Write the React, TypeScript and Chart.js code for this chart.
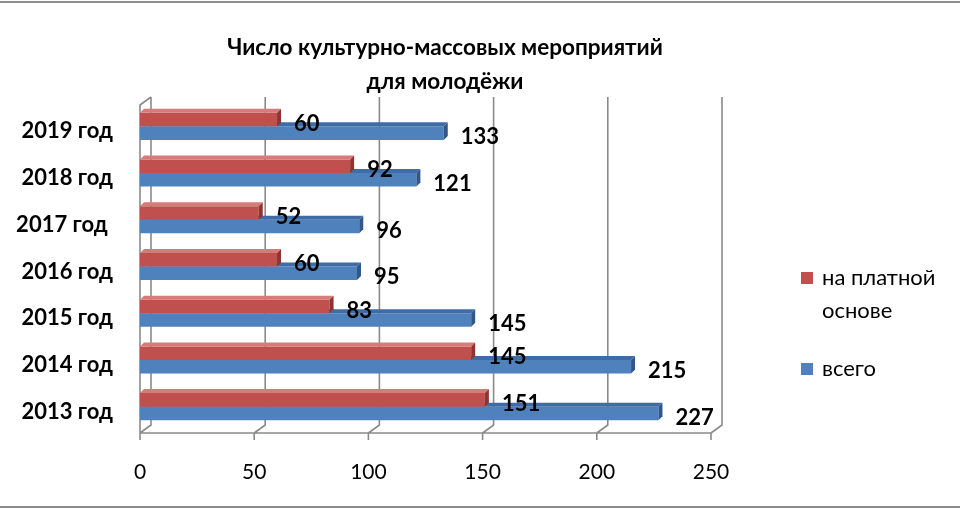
import React, { useEffect, useRef } from 'react';
import { Chart, registerables } from 'chart.js';

Chart.register(...registerables);

const titleLines = ['Число культурно-массовых мероприятий', 'для молодёжи'];
const categories = ['2019 год', '2018 год', '2017 год ', '2016 год', '2015 год', '2014 год', '2013 год'];
const paidValues = [60, 92, 52, 60, 83, 145, 151];
const totalValues = [133, 121, 96, 95, 145, 215, 227];
const xTicks = [0, 50, 100, 150, 200, 250];
const seriesNames = ['на платной основе', 'всего'];
const legendLines = [['на платной', 'основе'], ['всего']];

const FONT = 'Lato, "Noto Sans", sans-serif';
const RED = '#C0504D';
const BLUE = '#4F81BD';
// 3d faces: [top, side]
const faces: Record<number, [string, string]> = {
    0: ['#D57B78', '#8E3532'],
    1: ['#3F6CA6', '#30578A'],
};
const GRID = '#8A8A8A';
const DEPTH_X = 11;
const DEPTH_Y = 8;
const BAR_D = 4;

const frame3d = {
    id: 'frame3d',
    beforeDraw(chart: Chart) {
        const { ctx, width } = chart;
        ctx.save();
        ctx.fillStyle = '#fff';
        ctx.fillRect(0, 0, width, chart.height);
        ctx.strokeStyle = '#8C8C8C';
        ctx.lineWidth = 2;
        ctx.beginPath();
        ctx.moveTo(0, 2);
        ctx.lineTo(width, 2);
        ctx.moveTo(0, 507);
        ctx.lineTo(width, 507);
        ctx.stroke();
        ctx.restore();
    },
    beforeDatasetsDraw(chart: Chart) {
        const { ctx, chartArea } = chart;
        const x = chart.scales.x;
        const frontY = chartArea.bottom + 3;
        const backY = frontY - DEPTH_Y;
        const topY = chartArea.top - 6;
        ctx.save();
        ctx.strokeStyle = GRID;
        ctx.lineWidth = 1.6;
        ctx.beginPath();
        xTicks.forEach((v) => {
            const px = x.getPixelForValue(v);
            // back wall line
            ctx.moveTo(px + DEPTH_X, topY);
            ctx.lineTo(px + DEPTH_X, backY);
            // floor line
            ctx.lineTo(px, frontY);
            // tick
            ctx.lineTo(px, frontY + 7);
        });
        const x0 = x.getPixelForValue(0);
        const x1 = x.getPixelForValue(250);
        // floor front edge
        ctx.moveTo(x0, frontY);
        ctx.lineTo(x1, frontY);
        // left side wall
        ctx.moveTo(x0, frontY);
        ctx.lineTo(x0, topY + DEPTH_Y);
        ctx.lineTo(x0 + DEPTH_X, topY);
        ctx.stroke();
        ctx.restore();
    },
    afterDatasetDraw(chart: Chart, args: { index: number; meta: any }) {
        const { ctx } = chart;
        const [topColor, sideColor] = faces[args.index];
        ctx.save();
        args.meta.data.forEach((bar: any) => {
            const { x, y, base, height } = bar.getProps(['x', 'y', 'base', 'height'], true);
            const t = y - height / 2;
            const b = y + height / 2;
            ctx.fillStyle = topColor;
            ctx.beginPath();
            ctx.moveTo(base, t);
            ctx.lineTo(base + BAR_D, t - BAR_D);
            ctx.lineTo(x + BAR_D, t - BAR_D);
            ctx.lineTo(x, t);
            ctx.closePath();
            ctx.fill();
            ctx.fillStyle = sideColor;
            ctx.beginPath();
            ctx.moveTo(x, t);
            ctx.lineTo(x + BAR_D, t - BAR_D);
            ctx.lineTo(x + BAR_D, b - BAR_D);
            ctx.lineTo(x, b);
            ctx.closePath();
            ctx.fill();
        });
        ctx.restore();
    },
    afterDatasetsDraw(chart: Chart) {
        const { ctx } = chart;
        ctx.save();
        ctx.fillStyle = '#000';
        ctx.font = 'bold 22px ' + FONT;
        ctx.textAlign = 'left';
        ctx.textBaseline = 'middle';
        chart.data.datasets.forEach((ds, i) => {
            chart.getDatasetMeta(i).data.forEach((bar: any, j: number) => {
                ctx.fillText(String(ds.data[j]), bar.x + 17, bar.y + 4);
            });
        });
        ctx.restore();
    },
    afterDraw(chart: Chart) {
        const { ctx } = chart;
        ctx.save();
        ctx.fillStyle = '#000';
        ctx.textBaseline = 'middle';
        ctx.textAlign = 'center';
        ctx.font = 'bold 22.5px ' + FONT;
        titleLines.forEach((line, i) => ctx.fillText(line, 445, 48 + i * 34));

        // legend
        ctx.textAlign = 'left';
        ctx.font = '22px ' + FONT;
        const colors = [RED, BLUE];
        const starts = [278, 369];
        legendLines.forEach((lines, i) => {
            ctx.fillStyle = colors[i];
            ctx.fillRect(801, starts[i] - 6, 12, 12);
            ctx.fillStyle = '#000';
            lines.forEach((l, k) => ctx.fillText(l, 822, starts[i] + k * 33));
        });
        ctx.restore();
    },
};

export default function App() {
    const canvasRef = useRef<HTMLCanvasElement>(null);

    useEffect(() => {
        document.body.style.margin = '0';
        if (!canvasRef.current) return;
        const chart = new Chart(canvasRef.current, {
            type: 'bar',
            data: {
                labels: categories,
                datasets: [
                    {
                        label: seriesNames[0],
                        data: paidValues,
                        backgroundColor: RED,
                        categoryPercentage: 0.58,
                        barPercentage: 1,
                    },
                    {
                        label: seriesNames[1],
                        data: totalValues,
                        backgroundColor: BLUE,
                        categoryPercentage: 0.58,
                        barPercentage: 1,
                    },
                ],
            },
            options: {
                indexAxis: 'y',
                animation: false,
                responsive: true,
                maintainAspectRatio: false,
                layout: { padding: { top: 103, right: 249, left: 0, bottom: 0 } },
                plugins: {
                    legend: { display: false },
                    title: { display: false },
                    tooltip: { enabled: false },
                },
                scales: {
                    x: {
                        min: 0,
                        max: 250,
                        afterFit: (s: any) => {
                            s.height = 80;
                        },
                        ticks: {
                            stepSize: 50,
                            color: '#000',
                            padding: 30,
                            font: { family: FONT, size: 21 },
                        },
                        grid: { display: false, drawTicks: false },
                        border: { display: false },
                    },
                    y: {
                        afterFit: (s: any) => {
                            s.width = 140;
                        },
                        ticks: {
                            color: '#000',
                            padding: 27,
                            labelOffset: 5,
                            font: { family: FONT, size: 22, weight: 'bold' },
                        },
                        grid: { display: false, drawTicks: false },
                        border: { display: false },
                    },
                },
            },
            plugins: [frame3d],
        });
        return () => chart.destroy();
    }, []);

    return (
        <div style={{ width: 960, height: 510, position: 'relative' }}>
            <canvas ref={canvasRef} />
        </div>
    );
}
